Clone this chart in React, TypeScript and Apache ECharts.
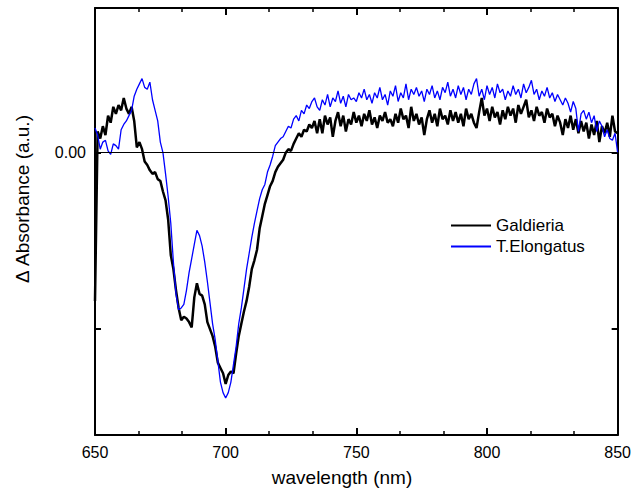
import React, { useEffect, useRef } from "react";
import * as echarts from "echarts";

// Wavelength grid (nm): first sample and step
const wavelengthStart = 650;
const wavelengthStep = 1;

// ΔAbsorbance (a.u.) for Galdieria, 650..850 nm, one value per nm
const galdieria = [
  -0.84, 0.12, 0.08, 0.15, 0.10, 0.21, 0.17, 0.26, 0.22, 0.27,
  0.24, 0.31, 0.25, 0.22, 0.26, 0.18, 0.03, 0.06, 0.02, -0.05,
  -0.07, -0.10, -0.12, -0.11, -0.15, -0.16, -0.22, -0.27, -0.38, -0.58,
  -0.66, -0.78, -0.88, -0.95, -0.93, -0.94, -0.96, -0.99, -0.82, -0.74,
  -0.80, -0.81, -0.86, -0.96, -1.00, -1.04, -1.10, -1.19, -1.22, -1.25,
  -1.31, -1.26, -1.24, -1.25, -1.14, -1.04, -0.97, -0.90, -0.84, -0.76,
  -0.66, -0.61, -0.55, -0.43, -0.36, -0.29, -0.24, -0.19, -0.16, -0.11,
  -0.08, -0.06, -0.04, 0.00, 0.02, 0.01, 0.05, 0.08, 0.11, 0.09,
  0.13, 0.12, 0.16, 0.14, 0.18, 0.11, 0.19, 0.11, 0.21, 0.16,
  0.20, 0.09, 0.18, 0.23, 0.15, 0.21, 0.12, 0.19, 0.16, 0.23,
  0.17, 0.21, 0.15, 0.22, 0.18, 0.24, 0.16, 0.20, 0.14, 0.21,
  0.18, 0.23, 0.17, 0.19, 0.15, 0.22, 0.17, 0.25, 0.19, 0.21,
  0.14, 0.26, 0.18, 0.22, 0.16, 0.20, 0.10, 0.19, 0.24, 0.17,
  0.22, 0.15, 0.25, 0.19, 0.21, 0.16, 0.24, 0.18, 0.23, 0.17,
  0.22, 0.15, 0.25, 0.19, 0.22, 0.17, 0.14, 0.23, 0.31, 0.21,
  0.25, 0.18, 0.26, 0.20, 0.23, 0.16, 0.24, 0.19, 0.26, 0.21,
  0.25, 0.17, 0.27, 0.22, 0.26, 0.30, 0.20, 0.24, 0.18, 0.26,
  0.21, 0.23, 0.17, 0.25, 0.20, 0.22, 0.15, 0.21, 0.17, 0.10,
  0.19, 0.14, 0.21, 0.13, 0.19, 0.11, 0.18, 0.12, 0.17, 0.08,
  0.16, 0.10, 0.18, 0.06, 0.15, 0.11, 0.17, 0.09, 0.21, 0.12,
  0.11,
];

// ΔAbsorbance (a.u.) for T.Elongatus, 650..850 nm, one value per nm
const tElongatus = [
  0.14, 0.10, 0.02, 0.06, 0.07, 0.01, -0.01, 0.05, 0.04, 0.02,
  0.13, 0.16, 0.18, 0.21, 0.24, 0.32, 0.36, 0.39, 0.42, 0.37,
  0.36, 0.40, 0.30, 0.24, 0.18, 0.06, 0.00, -0.12, -0.25, -0.40,
  -0.62, -0.80, -0.89, -0.88, -0.86, -0.78, -0.68, -0.60, -0.52, -0.44,
  -0.47, -0.53, -0.62, -0.73, -0.85, -0.97, -1.06, -1.18, -1.30, -1.36,
  -1.39, -1.36, -1.30, -1.20, -1.10, -0.97, -0.88, -0.77, -0.66, -0.57,
  -0.48, -0.40, -0.33, -0.26, -0.21, -0.18, -0.11, -0.07, -0.02, 0.04,
  0.06, 0.08, 0.09, 0.12, 0.15, 0.14, 0.19, 0.21, 0.18, 0.24,
  0.22, 0.27, 0.25, 0.29, 0.31, 0.26, 0.24, 0.30, 0.27, 0.33,
  0.26, 0.31, 0.29, 0.35, 0.28, 0.32, 0.26, 0.33, 0.30, 0.31,
  0.29, 0.34, 0.31, 0.36, 0.30, 0.33, 0.28, 0.34, 0.31, 0.37,
  0.30, 0.33, 0.27, 0.35, 0.32, 0.38, 0.29, 0.34, 0.31, 0.39,
  0.30, 0.36, 0.33, 0.37, 0.32, 0.35, 0.29, 0.36, 0.33, 0.38,
  0.31, 0.35, 0.30, 0.37, 0.34, 0.40, 0.32, 0.36, 0.31, 0.38,
  0.33, 0.37, 0.30, 0.36, 0.33, 0.39, 0.42, 0.32, 0.36, 0.30,
  0.38, 0.33, 0.37, 0.31, 0.39, 0.34, 0.36, 0.30, 0.35, 0.32,
  0.38, 0.33, 0.36, 0.31, 0.39, 0.34, 0.37, 0.41, 0.33, 0.36,
  0.30, 0.35, 0.32, 0.37, 0.31, 0.34, 0.29, 0.33, 0.30, 0.27,
  0.31, 0.28, 0.23, 0.29, 0.25, 0.12, 0.22, 0.24, 0.19, 0.23,
  0.17, 0.21, 0.12, 0.18, 0.15, 0.09, 0.13, 0.08, 0.07, 0.11,
  0.00,
];

const seriesNames = ["Galdieria", "T.Elongatus"];
const xTitle = "wavelength (nm)";
const yTitle = "\u0394 Absorbance (a.u.)";
const yTickValues = [0, -1];
const yLabelValues = [0];

const FONT = "'Liberation Sans', Arial, Helvetica, sans-serif";

function toPairs(values: number[]) {
  return values.map((v, i) => [wavelengthStart + i * wavelengthStep, v]);
}

export default function App() {
  const ref = useRef<HTMLDivElement>(null);

  useEffect(() => {
    if (!ref.current) return;
    const chart = echarts.init(ref.current, null, { renderer: "svg" });

    const xCommon = {
      type: "value",
      min: 650,
      max: 850,
      interval: 50,
      axisLine: { show: true, onZero: false, lineStyle: { color: "#000", width: 2 } },
      axisTick: { show: true, inside: true, length: 7, lineStyle: { color: "#000", width: 2 } },
      minorTick: { show: true, splitNumber: 3, length: 4, lineStyle: { color: "#000", width: 1.5 } },
      splitLine: { show: false },
      minorSplitLine: { show: false },
    };

    const yCommon = {
      type: "value",
      min: -1.6,
      max: 0.82,
      axisLine: { show: true, onZero: false, lineStyle: { color: "#000", width: 2 } },
      axisTick: {
        show: true,
        inside: true,
        length: 6,
        customValues: yTickValues,
        lineStyle: { color: "#000", width: 2 },
      },
      splitLine: { show: false },
    };

    chart.setOption({
      animation: false,
      backgroundColor: "#fff",
      grid: { left: 95, right: 15, top: 8, bottom: 58, containLabel: false },
      xAxis: [
        {
          ...xCommon,
          position: "bottom",
          axisLabel: {
            show: true,
            margin: 9,
            color: "#000",
            fontSize: 16,
            fontFamily: FONT,
          },
        },
        {
          ...xCommon,
          position: "top",
          axisLabel: { show: false },
        },
      ],
      yAxis: [
        {
          ...yCommon,
          position: "left",
          axisLabel: {
            show: true,
            customValues: yLabelValues,
            margin: 9,
            color: "#000",
            fontSize: 16,
            fontFamily: FONT,
            formatter: (v: number) => v.toFixed(2),
          },
        },
        {
          ...yCommon,
          position: "right",
          axisLabel: { show: false },
        },
      ],
      legend: {
        data: seriesNames.map((n) => ({ name: n, icon: "rect" })),
        orient: "vertical",
        left: 451,
        top: 217,
        padding: 0,
        itemGap: 4,
        itemWidth: 40,
        itemHeight: 2,
        textStyle: { color: "#000", fontSize: 17, fontFamily: FONT, lineHeight: 17 },
      },
      graphic: [
        {
          type: "text",
          x: 342,
          y: 477,
          style: {
            text: xTitle,
            fill: "#000",
            fontSize: 19,
            fontFamily: FONT,
            align: "center",
            verticalAlign: "middle",
          },
        },
        {
          type: "text",
          x: 22.5,
          y: 199,
          rotation: Math.PI / 2,
          style: {
            text: yTitle,
            fill: "#000",
            fontSize: 19,
            fontFamily: FONT,
            align: "center",
            verticalAlign: "middle",
          },
        },
      ],
      series: [
        {
          name: seriesNames[0],
          type: "line",
          xAxisIndex: 0,
          yAxisIndex: 0,
          data: toPairs(galdieria),
          symbol: "none",
          showSymbol: false,
          lineStyle: { color: "#000", width: 2.5 },
          itemStyle: { color: "#000" },
          markLine: {
            silent: true,
            symbol: "none",
            label: { show: false },
            lineStyle: { color: "#000", width: 1, type: "solid" },
            data: [{ yAxis: 0 }],
          },
        },
        {
          name: seriesNames[1],
          type: "line",
          xAxisIndex: 0,
          yAxisIndex: 0,
          data: toPairs(tElongatus),
          symbol: "none",
          showSymbol: false,
          lineStyle: { color: "#0000ff", width: 1.3 },
          itemStyle: { color: "#0000ff" },
        },
      ],
    });

    return () => chart.dispose();
  }, []);

  return (
    <div
      ref={ref}
      style={{ position: "absolute", left: 0, top: 0, width: 634, height: 493 }}
    />
  );
}
